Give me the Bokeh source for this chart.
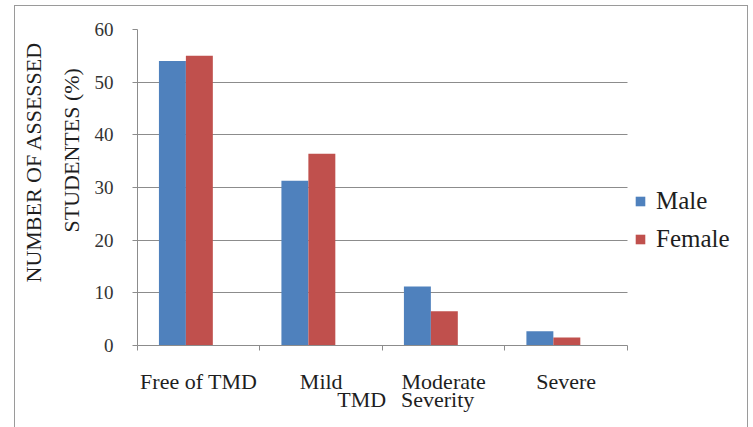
from bokeh.plotting import figure
from bokeh.models import Range1d, FixedTicker, Legend, LegendItem, ColumnDataSource, LinearAxis, Title
from bokeh.embed import file_html
from bokeh.resources import INLINE

# ---- data ----
categories = ["Free of TMD", "Mild TMD", "Moderate Severity", "Severe"]
male = [54.0, 31.3, 11.2, 2.7]
female = [55.0, 36.4, 6.5, 1.5]
series_names = ["Male", "Female"]
y_ticks = [0, 10, 20, 30, 40, 50, 60]
y_title = ["NUMBER OF ASSESSED", "STUDENTES (%)"]
# category names as wrapped in the original (first line / second line)
cat_line1 = ["Free of TMD", "Mild", "Moderate", "Severe"]
cat_line2 = {1: "TMD", 2: "Severity"}

MALE_C = "#4F81BD"
FEMALE_C = "#C0504D"
GRID_C = "#8c8c8c"
FONT = "Liberation Serif, Times New Roman, serif"
TXT_C = "#1e1e1e"

n = len(categories)
idx = list(range(n))
bar_w = 0.22

src = ColumnDataSource(dict(
    xm=[i + 0.285 for i in idx],
    xf=[i + 0.505 for i in idx],
    male=male,
    female=female,
))

# frame extends to the right to host the legend; grid/axis limited to the categories
p = figure(width=732, height=421, x_range=Range1d(0, 4.98), y_range=Range1d(0, 60),
           output_backend="svg", toolbar_location=None,
           min_border_left=121, min_border_right=0, min_border_top=23, min_border_bottom=82)
p.margin = (6, 0, 0, 15)
p.styles = {"outline": "1.5px solid #9a9a9a"}
p.outline_line_color = None
p.background_fill_color = "white"
p.border_fill_color = "white"

r1 = p.vbar(x="xm", top="male", width=bar_w, source=src, fill_color=MALE_C, line_color=None)
r2 = p.vbar(x="xf", top="female", width=bar_w, source=src, fill_color=FEMALE_C, line_color=None)

# grid
p.xgrid.grid_line_color = None
p.ygrid.grid_line_color = GRID_C
p.ygrid.grid_line_width = 1.2
p.ygrid.cross_bounds = (0, n)

# y axis
p.yaxis.ticker = FixedTicker(ticks=y_ticks)
p.yaxis.axis_line_color = GRID_C
p.yaxis.major_tick_line_color = GRID_C
p.yaxis.major_tick_out = 5
p.yaxis.major_tick_in = 0
p.yaxis.minor_tick_line_color = None
p.yaxis.major_label_text_font = FONT
p.yaxis.major_label_text_font_size = "19px"
p.yaxis.major_label_text_color = "#333333"
p.yaxis.major_label_standoff = 19

# two-line y title (start of each line measured up from the frame bottom)
for txt, off, stand in [(y_title[1], 113, 16), (y_title[0], 63, 6)]:
    t = Title(text=txt, align="left", offset=off, standoff=stand)
    t.text_font = FONT
    t.text_font_size = "22px"
    t.text_font_style = "normal"
    t.text_color = TXT_C
    p.add_layout(t, "left")

# x axis: labels at category centres (no tick marks), tick marks at boundaries
centers = [i + 0.5 for i in idx]
p.xaxis.ticker = FixedTicker(ticks=centers, minor_ticks=list(range(n + 1)))
p.xaxis.bounds = (0, n)
p.xaxis.major_label_overrides = {c: cat_line1[i] for i, c in enumerate(centers)}
p.xaxis.axis_line_color = GRID_C
p.xaxis.major_tick_line_color = None
p.xaxis.major_tick_out = 0
p.xaxis.major_tick_in = 0
p.xaxis.minor_tick_line_color = GRID_C
p.xaxis.minor_tick_out = 5
p.xaxis.minor_tick_in = 0
p.xaxis.major_label_text_font = FONT
p.xaxis.major_label_text_font_size = "22px"
p.xaxis.major_label_text_color = TXT_C
p.xaxis.major_label_standoff = 18

# second line of the wrapped category names
pos2 = {1: 1.83, 2: 2.45}
ax2 = LinearAxis(ticker=FixedTicker(ticks=[pos2[k] for k in cat_line2]))
ax2.major_label_overrides = {pos2[k]: v for k, v in cat_line2.items()}
ax2.axis_line_color = None
ax2.major_tick_line_color = None
ax2.minor_tick_line_color = None
ax2.major_tick_out = 0
ax2.major_label_text_font = FONT
ax2.major_label_text_font_size = "22px"
ax2.major_label_text_color = TXT_C
ax2.major_label_standoff = -10
p.add_layout(ax2, "below")

# legend (inside the extended frame, right of the bars)
legend = Legend(items=[LegendItem(label=series_names[0], renderers=[r1]),
                       LegendItem(label=series_names[1], renderers=[r2])],
                location=(497, 92), orientation="vertical")
legend.label_text_font = FONT
legend.label_text_font_size = "25px"
legend.label_text_color = TXT_C
legend.glyph_width = 12
legend.glyph_height = 12
legend.label_standoff = 10
legend.spacing = 10
legend.padding = 0
legend.margin = 0
legend.border_line_color = None
legend.background_fill_alpha = 0
p.add_layout(legend)

open("out.html", "w").write(file_html(p, INLINE))
